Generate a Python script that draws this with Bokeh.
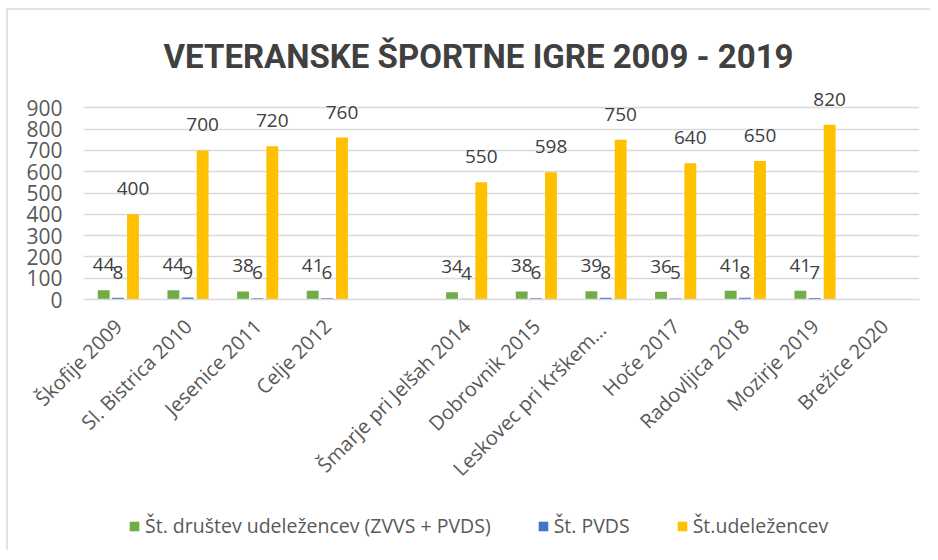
import math
from bokeh.plotting import figure
from bokeh.layouts import column
from bokeh.models import (ColumnDataSource, FactorRange, Range1d, LabelSet,
                          Legend, LegendItem, FixedTicker)
from bokeh.transform import dodge
from bokeh.core.properties import value
from bokeh.embed import file_html
from bokeh.resources import INLINE

# ---- data ----
categories = ["Škofije 2009", "Sl. Bistrica 2010", "Jesenice 2011", "Celje 2012", " ",
              "Šmarje pri Jelšah 2014", "Dobrovnik 2015", "Leskovec  pri Krškem…",
              "Hoče 2017", "Radovljica 2018", "Mozirje 2019", "Brežice 2020"]
drustva = [44, 44, 38, 41, None, 34, 38, 39, 36, 41, 41, None]
pvds = [8, 9, 6, 6, None, 4, 6, 8, 5, 8, 7, None]
udelezenci = [400, 700, 720, 760, None, 550, 598, 750, 640, 650, 820, None]
series_names = ["Št. društev udeležencev (ZVVS + PVDS)", "Št. PVDS", "Št.udeležencev"]
y_ticks = [0, 100, 200, 300, 400, 500, 600, 700, 800, 900]
title_text = "VETERANSKE ŠPORTNE IGRE 2009 - 2019"

colors = ["#70AD47", "#4472C4", "#FFC000"]
offsets = [-0.21, -0.005, 0.21]

FONT = "Open Sans"

p = figure(x_range=FactorRange(*categories, range_padding=0),
           y_range=Range1d(0, 1000),
           width=922, height=490,
           min_border_left=75, min_border_right=11, min_border_top=76, min_border_bottom=201,
           output_backend="svg", toolbar_location=None)
p.outline_line_color = None
p.background_fill_color = "white"
p.border_fill_color = "white"

p.title.text = title_text
p.title.align = "left"
p.title.offset = 80
p.title.standoff = 22
p.title.text_font = "Roboto"
p.title.text_font_style = "bold"
p.title.text_font_size = "33px"
p.title.text_color = "#404040"

p.xgrid.grid_line_color = None
p.ygrid.grid_line_color = "#D9D9D9"
p.ygrid.grid_line_width = 1.5

p.yaxis.ticker = FixedTicker(ticks=y_ticks)
p.yaxis.axis_line_color = None
p.yaxis.major_tick_line_color = None
p.yaxis.minor_tick_line_color = None
p.yaxis.major_label_text_font = FONT
p.yaxis.major_label_text_font_size = "21px"
p.yaxis.major_label_text_color = "#595959"
p.yaxis.major_label_standoff = 15

p.xaxis.axis_line_color = "#D9D9D9"
p.xaxis.axis_line_width = 1.5
p.xaxis.major_tick_line_color = None
p.xaxis.minor_tick_line_color = None
p.xaxis.major_label_orientation = math.pi / 4
p.xaxis.major_label_text_font = FONT
p.xaxis.major_label_text_font_size = "20px"
p.xaxis.major_label_text_color = "#595959"
p.xaxis.major_label_standoff = 17

# legend strip below the chart
lp = figure(width=922, height=50, x_range=Range1d(0, 1), y_range=Range1d(0, 1),
            min_border_left=0, min_border_right=0, min_border_top=0, min_border_bottom=0,
            x_axis_type=None, y_axis_type=None,
            output_backend="svg", toolbar_location=None)
lp.outline_line_color = None
lp.xgrid.visible = False
lp.ygrid.visible = False

items = []
for name, vals, col, off in zip(series_names, [drustva, pvds, udelezenci], colors, offsets):
    cats = [c for c, v in zip(categories, vals) if v is not None]
    vv = [v for v in vals if v is not None]
    src = ColumnDataSource(dict(cat=cats, val=vv, lab=[str(v) for v in vv]))
    p.vbar(x=dodge("cat", off, range=p.x_range), top="val", width=0.17,
           source=src, fill_color=col, line_color=None)
    p.add_layout(LabelSet(x=dodge("cat", off, range=p.x_range), y="val", text="lab",
                          source=src, text_align="center", text_baseline="bottom",
                          y_offset=19, text_font=value(FONT), text_font_size="19px",
                          text_color="#404040"))
    # off-screen swatch renderer: only its colour is used by the legend
    lr = lp.vbar(x=[-1], top=[-1], width=0.1, fill_color=col, line_color=None)
    items.append(LegendItem(label=name, renderers=[lr]))

legend = Legend(items=items, orientation="horizontal", location=(45, 11),
                padding=0, margin=0, spacing=46, label_standoff=5,
                glyph_width=12, glyph_height=12,
                label_text_font=FONT, label_text_font_size="19.5px",
                label_text_color="#595959",
                border_line_color=None, background_fill_alpha=0)
lp.add_layout(legend, "center")

layout = column(p, lp, spacing=0,
                styles={"border-left": "2px solid #e3e3e3", "border-top": "2px solid #e3e3e3",
                        "margin-left": "6px", "margin-top": "8px"})

open("out.html", "w").write(file_html(layout, INLINE))
